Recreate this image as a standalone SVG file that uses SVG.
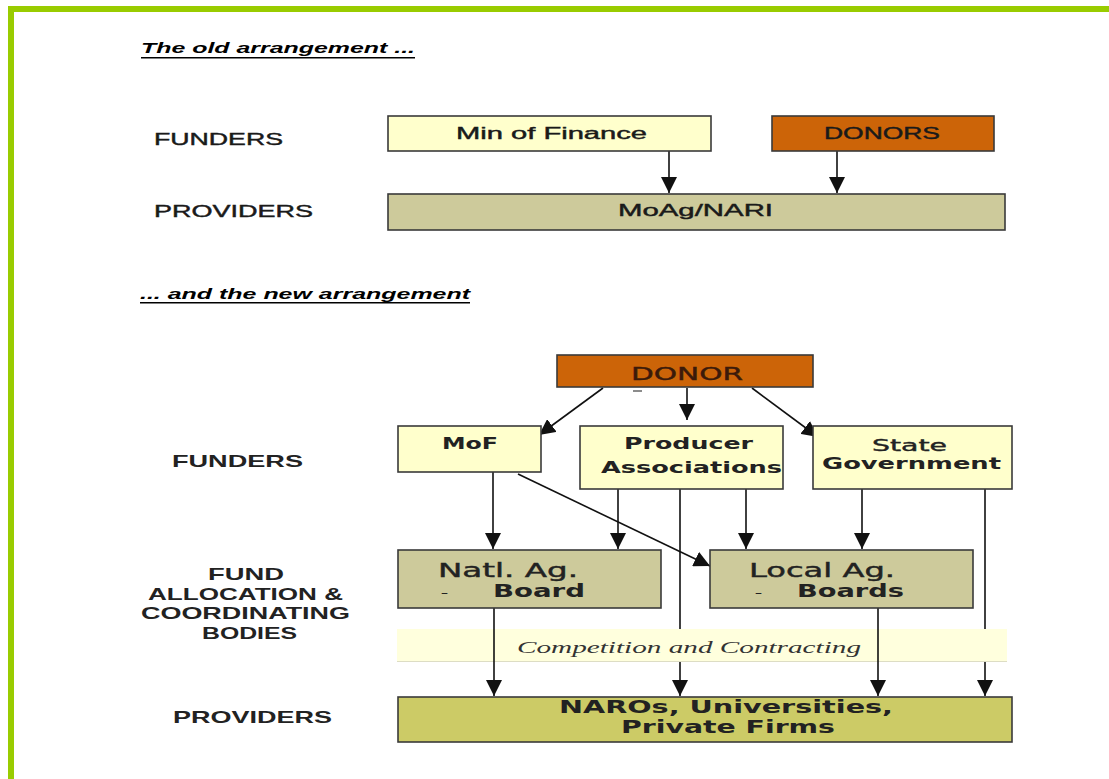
<svg xmlns="http://www.w3.org/2000/svg" width="1109" height="779" viewBox="0 0 1109 779">
<defs>
<marker id="ah" markerUnits="userSpaceOnUse" markerWidth="16" markerHeight="16" refX="16" refY="8" orient="auto">
<path d="M0,0 L16,8 L0,16 z" fill="#111"/>
</marker>
</defs>
<style>
.box{stroke:#3a3a3a;stroke-width:1.6}
.yel{fill:#ffffcc}
.org{fill:#cc6408}
.kha{fill:#cdca9b}
.olv{fill:#cccb66}
.con{fill:none;stroke:#111;stroke-width:1.6;marker-end:url(#ah)}
.plain{fill:none;stroke:#111;stroke-width:1.6}
.ttl{font-family:"Liberation Sans",Arial,sans-serif;font-weight:bold;font-style:italic;font-size:14px;fill:#000}
.lblo{font-family:"Liberation Sans",Arial,sans-serif;font-size:16px;fill:#1a1a1a;stroke:#1a1a1a;stroke-width:0.4}
.lbln{font-family:"Liberation Sans",Arial,sans-serif;font-weight:bold;font-size:16.5px;fill:#222}
.bxo{font-family:"Liberation Sans",Arial,sans-serif;font-size:16px;fill:#1a1a1a;stroke:#1a1a1a;stroke-width:0.4}
.bxn{font-family:"DejaVu Sans",Verdana,sans-serif;font-weight:bold;font-size:16px;fill:#222}
.cc{font-family:"Liberation Serif","Times New Roman",serif;font-style:italic;font-size:17px;fill:#333}
</style>
<rect x="0" y="0" width="1109" height="779" fill="#ffffff"/>
<g id="frame">
<rect x="8" y="6" width="1101" height="6" fill="#99cc00"/>
<rect x="8" y="6" width="6" height="773" fill="#99cc00"/>
</g>
<g id="titles">
<text class="ttl" x="141" y="53" textLength="274" lengthAdjust="spacingAndGlyphs">The old arrangement ...</text>
<rect x="141" y="57" width="274" height="1.5" fill="#000"/>
<text class="ttl" x="140" y="299" textLength="330" lengthAdjust="spacingAndGlyphs">... and the new arrangement</text>
<rect x="140" y="302" width="330" height="1.5" fill="#000"/>
</g>
<g id="row-labels">
<text class="lblo" x="154" y="145" textLength="129" lengthAdjust="spacingAndGlyphs">FUNDERS</text>
<text class="lblo" x="154" y="217" textLength="159" lengthAdjust="spacingAndGlyphs">PROVIDERS</text>
<text class="lbln" x="172" y="467" textLength="131" lengthAdjust="spacingAndGlyphs">FUNDERS</text>
<text class="lbln" x="208" y="580" textLength="76" lengthAdjust="spacingAndGlyphs">FUND</text>
<text class="lbln" x="148" y="600" textLength="195" lengthAdjust="spacingAndGlyphs">ALLOCATION &amp;</text>
<text class="lbln" x="141" y="619" textLength="209" lengthAdjust="spacingAndGlyphs">COORDINATING</text>
<text class="lbln" x="202" y="639" textLength="95" lengthAdjust="spacingAndGlyphs">BODIES</text>
<text class="lbln" x="173" y="723" textLength="159" lengthAdjust="spacingAndGlyphs">PROVIDERS</text>
</g>
<g id="band">
<rect x="397" y="629" width="610" height="33" fill="#ffffdd"/>
<line x1="397" y1="661.5" x2="1007" y2="661.5" stroke="#ddddc4" stroke-width="1"/>
<text class="cc" x="517" y="653" textLength="344" lengthAdjust="spacingAndGlyphs">Competition and Contracting</text>
</g>
<g id="connectors">
<line class="con" x1="669" y1="151" x2="669" y2="193"/>
<line class="con" x1="837" y1="151" x2="837" y2="193"/>
<line class="con" x1="603" y1="388" x2="539" y2="435"/>
<line class="con" x1="687" y1="388" x2="687" y2="420"/>
<line class="con" x1="752" y1="388" x2="818" y2="437"/>
<line class="con" x1="493" y1="472" x2="493" y2="549"/>
<line class="con" x1="618" y1="489" x2="618" y2="549"/>
<line class="con" x1="746" y1="489" x2="746" y2="549"/>
<line class="con" x1="862" y1="489" x2="862" y2="549"/>
<line class="con" x1="518" y1="474" x2="710" y2="566"/>
<line class="plain" x1="680" y1="489" x2="680" y2="629"/>
<line class="con" x1="680" y1="662" x2="680" y2="696"/>
<line class="plain" x1="985" y1="489" x2="985" y2="629"/>
<line class="con" x1="985" y1="662" x2="985" y2="696"/>
<line class="con" x1="494" y1="608" x2="494" y2="696"/>
<line class="con" x1="878" y1="608" x2="878" y2="696"/>
</g>
<g id="min-of-finance">
<rect class="box yel" x="388" y="116" width="323" height="35"/>
<text class="bxo" x="456" y="139" textLength="191" lengthAdjust="spacingAndGlyphs">Min of Finance</text>
</g>
<g id="donors">
<rect class="box org" x="772" y="116" width="222" height="35"/>
<text class="bxo" x="824" y="139" textLength="116" lengthAdjust="spacingAndGlyphs">DONORS</text>
</g>
<g id="moag-nari">
<rect class="box kha" x="388" y="194" width="617" height="36"/>
<text class="bxo" x="618" y="216" textLength="155" lengthAdjust="spacingAndGlyphs">MoAg/NARI</text>
</g>
<g id="donor">
<rect class="box org" x="557" y="355" width="256" height="32"/>
<text class="bxn" x="631" y="380" textLength="112" lengthAdjust="spacingAndGlyphs" style="font-weight:normal;font-size:18px;fill:#3b1a0a;stroke:#3b1a0a;stroke-width:0.4">DONOR</text>
<line x1="633" y1="391" x2="642" y2="391" stroke="#666" stroke-width="1.5"/>
</g>
<g id="mof">
<rect class="box yel" x="398" y="426" width="143" height="46"/>
<text class="bxn" x="442" y="449" textLength="56" lengthAdjust="spacingAndGlyphs">MoF</text>
</g>
<g id="producer-associations">
<rect class="box yel" x="580" y="426" width="203" height="63"/>
<text class="bxn" x="624" y="449" textLength="129" lengthAdjust="spacingAndGlyphs">Producer</text>
<text class="bxn" x="601" y="473" textLength="181" lengthAdjust="spacingAndGlyphs">Associations</text>
</g>
<g id="state-government">
<rect class="box yel" x="813" y="426" width="199" height="63"/>
<text class="bxn" x="872" y="451" textLength="75" lengthAdjust="spacingAndGlyphs" style="font-weight:normal;stroke:#222;stroke-width:0.4">State</text>
<text class="bxn" x="822" y="469" textLength="179" lengthAdjust="spacingAndGlyphs">Government</text>
</g>
<g id="natl-ag-board">
<rect class="box kha" x="398" y="550" width="263" height="58"/>
<text class="bxn" x="438" y="577" textLength="140" lengthAdjust="spacingAndGlyphs" style="font-weight:normal;font-size:19px;stroke:#222;stroke-width:0.4">Natl. Ag.</text>
<text class="bxn" x="441" y="597" style="font-weight:normal;font-size:14px">–</text>
<text class="bxn" x="493" y="597" textLength="92" lengthAdjust="spacingAndGlyphs" style="font-size:18px">Board</text>
</g>
<g id="local-ag-boards">
<rect class="box kha" x="710" y="550" width="263" height="58"/>
<text class="bxn" x="749" y="577" textLength="146" lengthAdjust="spacingAndGlyphs" style="font-weight:normal;font-size:19px;stroke:#222;stroke-width:0.4">Local Ag.</text>
<text class="bxn" x="755" y="597" style="font-weight:normal;font-size:14px">–</text>
<text class="bxn" x="797" y="597" textLength="107" lengthAdjust="spacingAndGlyphs" style="font-size:18px">Boards</text>
</g>
<g id="naros">
<rect class="box olv" x="398" y="697" width="614" height="45"/>
<text class="bxn" x="559" y="713" textLength="334" lengthAdjust="spacingAndGlyphs" style="font-size:17px">NAROs, Universities,</text>
<text class="bxn" x="621" y="733" textLength="214" lengthAdjust="spacingAndGlyphs" style="font-size:17px">Private Firms</text>
</g>
</svg>
